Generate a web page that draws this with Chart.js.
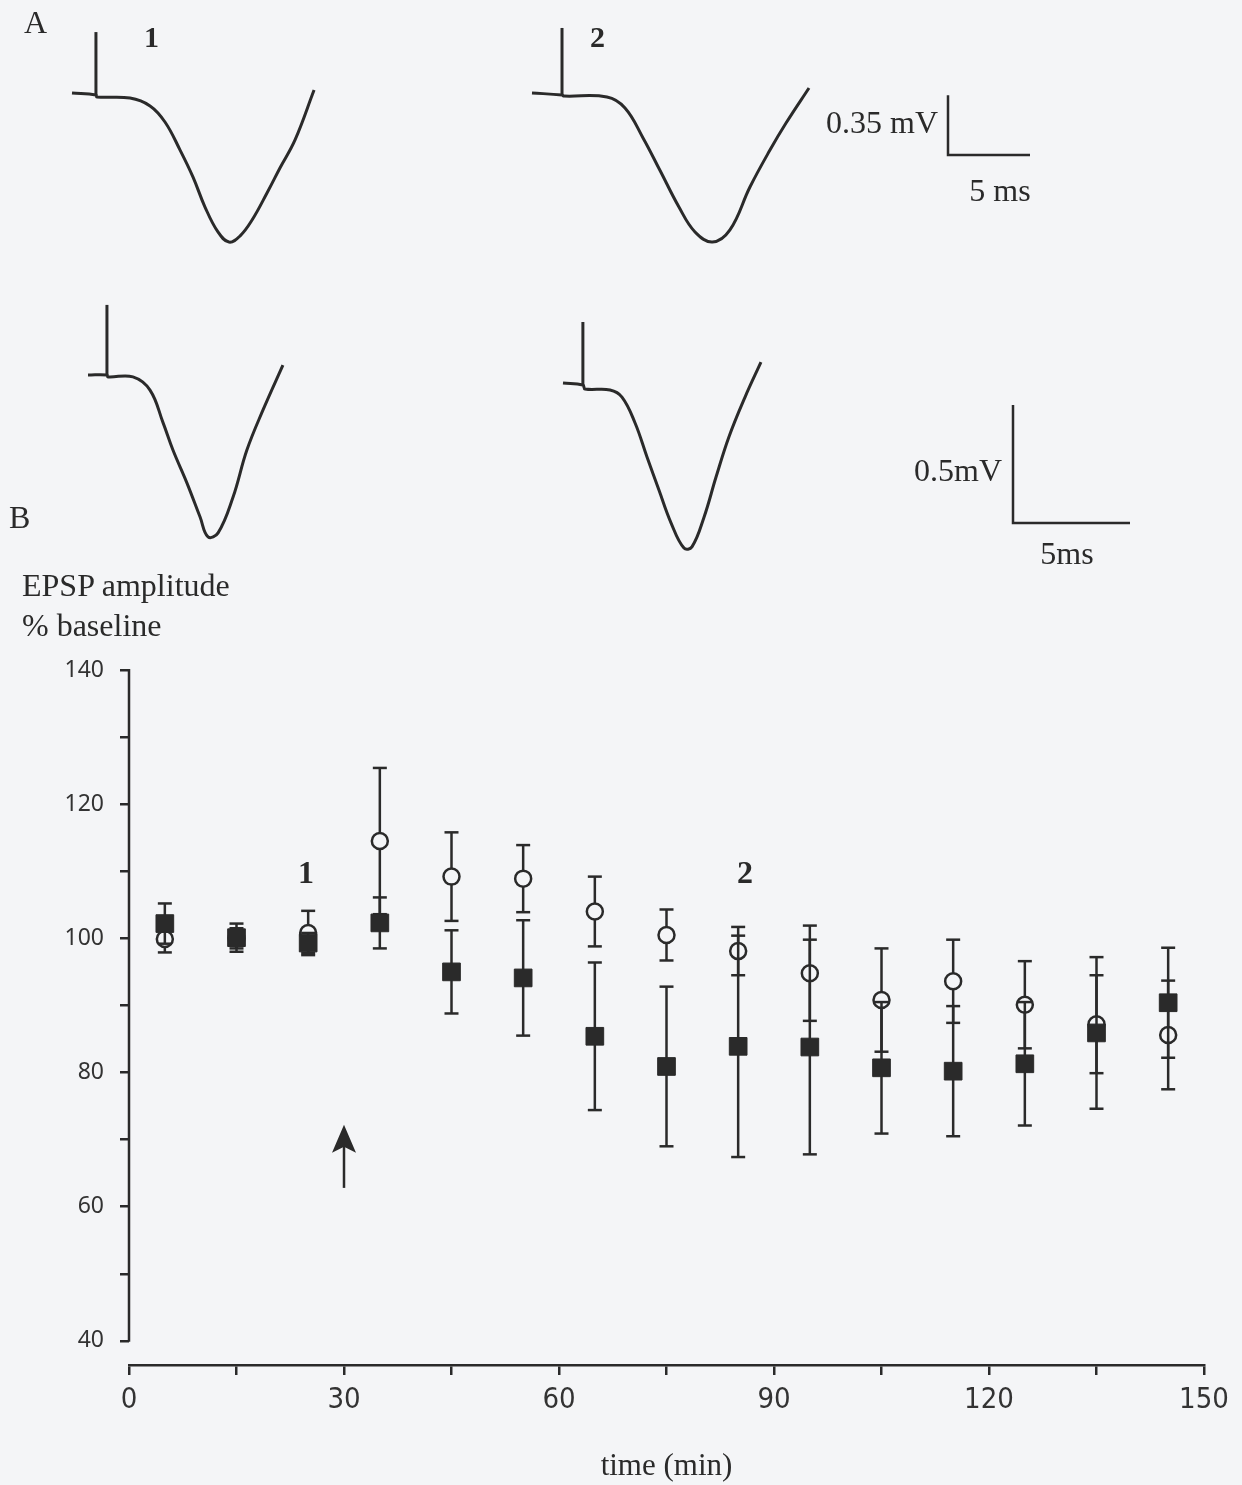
<!DOCTYPE html>
<html>
<head>
<meta charset="utf-8">
<script src="https://cdn.jsdelivr.net/npm/chart.js@4.4.1/dist/chart.umd.min.js"></script>
<style>
  html, body { margin: 0; padding: 0; background: #f4f5f7; }
  body { width: 1242px; height: 1485px; position: relative; overflow: hidden;
         font-family: "Liberation Serif", "Times New Roman", serif; color: #2a2a2a; }
  canvas { position: absolute; left: 0; }
  .lbl { position: absolute; font-size: 32px; line-height: 1; white-space: nowrap; }
  .bold { font-weight: bold; }
  .mid { transform: translateX(-50%); }
</style>
</head>
<body>
<canvas id="rowTop" width="1242" height="270" style="top:0"></canvas>
<canvas id="rowBottom" width="1242" height="290" style="top:290px"></canvas>
<canvas id="plot" width="1242" height="845" style="top:640px"></canvas>

<div class="lbl" style="left:24px;top:6px">A</div>
<div class="lbl bold" style="left:144px;top:22px;font-size:30px">1</div>
<div class="lbl bold" style="left:590px;top:22px;font-size:30px">2</div>
<div class="lbl" style="right:304px;top:106px">0.35 mV</div>
<div class="lbl mid" style="left:1000px;top:174px">5 ms</div>
<div class="lbl" style="right:240px;top:454px">0.5mV</div>
<div class="lbl mid" style="left:1067px;top:537px">5ms</div>
<div class="lbl" style="left:9px;top:501px">B</div>
<div class="lbl" style="left:22px;top:569px">EPSP amplitude</div>
<div class="lbl" style="left:22px;top:609px">% baseline</div>
<div class="lbl bold mid" style="left:306px;top:856px;font-size:32px">1</div>
<div class="lbl bold mid" style="left:745px;top:856px;font-size:32px">2</div>

<script>
// ---- panel A traces: time (ms) from trace start, voltage (mV) from baseline ----
const trace1Time = [0, 1.46, 1.52, 3.54, 4.76, 5.67, 6.59, 7.38, 8.11, 8.90, 9.57, 10.24, 10.98, 11.89, 12.68, 13.60, 14.76];
const trace1Volt = [0.012, 0, -0.012, -0.018, -0.064, -0.158, -0.322, -0.480, -0.655, -0.801, -0.860, -0.825, -0.731, -0.573, -0.427, -0.263, 0.029];
const trace1Artifact = [1.46, 0.368];   // time, peak

const trace2Time = [0, 1.83, 1.95, 4.57, 5.67, 6.77, 7.80, 8.96, 9.94, 11.0, 12.07, 13.29, 14.51, 15.49, 16.89];
const trace2Volt = [0.012, 0, -0.006, -0.012, -0.076, -0.251, -0.440, -0.655, -0.801, -0.860, -0.789, -0.538, -0.322, -0.164, 0.041];
const trace2Artifact = [1.83, 0.392];

const trace3Time = [0, 0.81, 0.85, 1.92, 2.65, 3.21, 3.63, 4.23, 4.79, 5.13, 5.56, 6.20, 6.79, 7.48, 8.33];
const trace3Volt = [0, 0, -0.008, -0.008, -0.064, -0.203, -0.318, -0.458, -0.602, -0.686, -0.669, -0.517, -0.318, -0.148, 0.042];
const trace3Artifact = [0.81, 0.297];

const trace4Time = [0, 0.85, 0.94, 2.01, 2.52, 3.08, 3.59, 4.10, 4.62, 5.17, 5.51, 6.03, 6.54, 7.09, 7.78, 8.46];
const trace4Volt = [0.008, 0, -0.017, -0.021, -0.051, -0.161, -0.305, -0.445, -0.585, -0.691, -0.686, -0.559, -0.390, -0.220, -0.051, 0.097];
const trace4Artifact = [0.85, 0.267];

const scaleBarTop = [5, 0.35];      // ms, mV
const scaleBarBottom = [5, 0.5];

// ---- panel B: EPSP amplitude (% baseline) ----
const timeMin = [5, 15, 25, 35, 45, 55, 65, 75, 85, 95, 105, 115, 125, 135, 145];
const openMean = [99.9, 100.0, 100.8, 114.5, 109.2, 108.9, 104.0, 100.5, 98.1, 94.8, 90.8, 93.6, 90.1, 87.2, 85.6];
const openErr  = [2.0, 1.5, 3.3, 10.9, 6.6, 5.0, 5.2, 3.8, 3.6, 7.1, 7.7, 6.2, 6.5, 7.3, 8.1];
const filledMean = [102.2, 100.1, 99.3, 102.3, 95.0, 94.1, 85.4, 80.9, 83.9, 83.8, 80.7, 80.2, 81.3, 85.9, 90.4];
const filledErr  = [3.0, 2.1, 1.5, 3.8, 6.2, 8.6, 11.0, 11.9, 16.5, 16.0, 9.8, 9.7, 9.2, 11.3, 8.2];
const stimArrow = [30, 62.8, 72.2];   // time, tail, tip

const xTicks = [0, 15, 30, 45, 60, 75, 90, 105, 120, 135, 150];
const xLabels = [0, 30, 60, 90, 120, 150];
const yTicks = [40, 50, 60, 70, 80, 90, 100, 110, 120, 130, 140];
const yLabels = [40, 60, 80, 100, 120, 140];

const ink = '#2a2a2a';
const paper = '#f4f5f7';
Chart.defaults.animation = false;

// ---- trace rows ----
function pts(ts, vs, dt, dv) {
  return ts.map((t, i) => ({x: t + dt, y: vs[i] + dv}));
}
function traceSets(ts, vs, art, dt, dv) {
  return [
    {data: pts(ts, vs, dt, dv), tension: 0.4},
    {data: [{x: art[0] + dt, y: dv}, {x: art[0] + dt, y: art[1] + dv}], tension: 0}
  ];
}
function barSet(bar, x0, y0) {
  return {data: [{x: x0, y: y0 + bar[1]}, {x: x0, y: y0}, {x: x0 + bar[0], y: y0}], tension: 0, borderWidth: 2.5};
}
function traceRow(id, row, sets) {
  const c = document.getElementById(id);
  new Chart(c, {
    type: 'scatter',
    data: {datasets: sets.map(s => Object.assign({showLine: true, pointRadius: 0, borderColor: ink, borderWidth: 3}, s))},
    options: {
      responsive: false, devicePixelRatio: 1,
      layout: {padding: 0},
      plugins: {legend: {display: false}, tooltip: {enabled: false}},
      scales: {
        x: {type: 'linear', display: false, min: -row.ox / row.msPx, max: (c.width - row.ox) / row.msPx},
        y: {type: 'linear', display: false, min: -(c.height - row.oy) / row.mvPx, max: row.oy / row.mvPx}
      }
    }
  });
}

const geoTop = {msPx: 16.4, mvPx: 171, ox: 72, oy: 95};
traceRow('rowTop', geoTop, [
  ...traceSets(trace1Time, trace1Volt, trace1Artifact, 0, 0),
  ...traceSets(trace2Time, trace2Volt, trace2Artifact, (532 - geoTop.ox) / geoTop.msPx, 0),
  barSet(scaleBarTop, (948 - geoTop.ox) / geoTop.msPx, -(155 - geoTop.oy) / geoTop.mvPx)
]);

const geoBot = {msPx: 23.4, mvPx: 236, ox: 88, oy: 85};
traceRow('rowBottom', geoBot, [
  ...traceSets(trace3Time, trace3Volt, trace3Artifact, 0, 0),
  ...traceSets(trace4Time, trace4Volt, trace4Artifact, (563 - geoBot.ox) / geoBot.msPx, -10 / geoBot.mvPx),
  barSet(scaleBarBottom, (1013 - geoBot.ox) / geoBot.msPx, -(523 - 290 - geoBot.oy) / geoBot.mvPx)
]);

// ---- panel B ----
function errLines(means, errs) {
  const out = [];
  timeMin.forEach((t, i) => {
    out.push({x: t, y: means[i] - errs[i]}, {x: t, y: means[i] + errs[i]}, {x: t, y: null});
  });
  return out;
}
function errCaps(means, errs) {
  const out = [];
  timeMin.forEach((t, i) => {
    out.push({x: t, y: means[i] - errs[i]}, {x: t, y: means[i] + errs[i]});
  });
  return out;
}

const axisAndArrow = {
  id: 'axisAndArrow',
  afterDatasetsDraw(chart) {
    const {ctx, scales: {x, y}} = chart;
    ctx.save();
    ctx.strokeStyle = ink;
    ctx.fillStyle = ink;
    ctx.lineWidth = 2.5;
    const ax = chart.chartArea.left;
    ctx.beginPath();
    ctx.moveTo(ax, y.getPixelForValue(yTicks[yTicks.length - 1]) - 1);
    ctx.lineTo(ax, y.getPixelForValue(yTicks[0]) + 1);
    ctx.stroke();

    // stimulation arrow
    const px = x.getPixelForValue(stimArrow[0]);
    const tail = y.getPixelForValue(stimArrow[1]);
    const tip = y.getPixelForValue(stimArrow[2]);
    ctx.beginPath();
    ctx.moveTo(px, tail);
    ctx.lineTo(px, tip + 15);
    ctx.stroke();
    ctx.beginPath();
    ctx.moveTo(px, tip);
    ctx.lineTo(px + 12, tip + 28);
    ctx.lineTo(px, tip + 22);
    ctx.lineTo(px - 12, tip + 28);
    ctx.closePath();
    ctx.fill();
    ctx.restore();
  }
};

new Chart(document.getElementById('plot'), {
  type: 'scatter',
  data: {
    datasets: [
      {data: filledMean.map((v, i) => ({x: timeMin[i], y: v})), pointStyle: 'rect', pointRadius: 12.5,
       backgroundColor: ink, borderColor: ink, borderWidth: 1, order: 1},
      {data: errCaps(filledMean, filledErr), pointStyle: 'line', pointRadius: 7,
       borderColor: ink, borderWidth: 2.5, order: 2},
      {data: errLines(filledMean, filledErr), showLine: true, spanGaps: false, pointRadius: 0,
       borderColor: ink, borderWidth: 2.5, order: 3},
      {data: openMean.map((v, i) => ({x: timeMin[i], y: v})), pointStyle: 'circle', pointRadius: 8,
       backgroundColor: paper, borderColor: ink, borderWidth: 2.5, order: 4},
      {data: errCaps(openMean, openErr), pointStyle: 'line', pointRadius: 7,
       borderColor: ink, borderWidth: 2.5, order: 5},
      {data: errLines(openMean, openErr), showLine: true, spanGaps: false, pointRadius: 0,
       borderColor: ink, borderWidth: 2.5, order: 6}
    ]
  },
  options: {
    responsive: false, devicePixelRatio: 1,
    layout: {padding: {top: 30, right: 38, left: 0, bottom: 0}},
    plugins: {legend: {display: false}, tooltip: {enabled: false}},
    scales: {
      x: {
        type: 'linear', min: 0, max: 150,
        afterBuildTicks: s => { s.ticks = xTicks.map(v => ({value: v})); },
        afterFit: s => { s.height = 120; },
        border: {display: true, color: ink, width: 2.5},
        grid: {drawOnChartArea: false, drawTicks: true, tickLength: 10, color: ink, lineWidth: 2.5},
        ticks: {
          autoSkip: false, maxRotation: 0, padding: 8, color: '#333',
          font: {family: '"Liberation Sans Narrow", "DejaVu Sans Condensed", sans-serif', size: 29},
          callback: v => xLabels.includes(v) ? String(v) : ''
        },
        title: {display: true, text: 'time (min)', color: ink, padding: {top: 0, bottom: 0},
                font: {family: '"Liberation Serif", serif', size: 31}}
      },
      y: {
        type: 'linear', min: 36.4, max: 140,
        afterBuildTicks: s => { s.ticks = yTicks.map(v => ({value: v})); },
        afterFit: s => { s.width = 129; },
        border: {display: false},
        grid: {drawOnChartArea: false, drawTicks: true, tickLength: 9, color: ink, lineWidth: 2.5},
        ticks: {
          autoSkip: false, padding: 16, color: '#333',
          font: {family: '"Noto Sans", sans-serif', size: 23},
          callback: v => yLabels.includes(v) ? String(v) : ''
        }
      }
    }
  },
  plugins: [axisAndArrow]
});
</script>
</body>
</html>
